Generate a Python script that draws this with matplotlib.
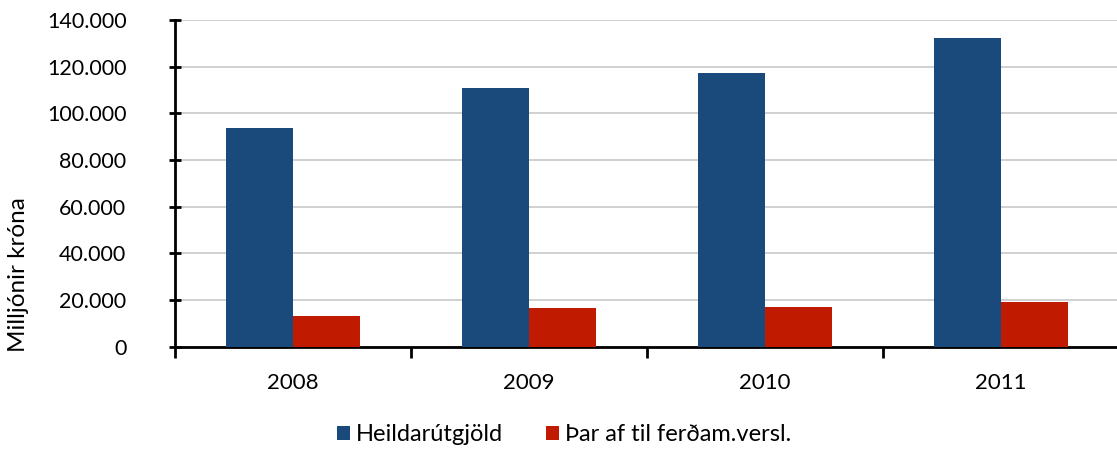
import numpy as np
import matplotlib.pyplot as plt
from matplotlib.ticker import FuncFormatter

years = ['2008', '2009', '2010', '2011']
heild = [93600, 111000, 117200, 132100]
ferda = [13300, 16600, 17300, 19100]
labels = ['Heildarútgjöld', 'Þar af til ferðam.versl.']

plt.rcParams['font.family'] = ['Lato', 'DejaVu Sans']

fig = plt.figure(figsize=(11.17, 4.5), dpi=100)
ax = fig.add_axes([0.1567, 0.229, 0.845, 0.727])

x = np.arange(len(years))
w = 0.285
ax.bar(x - w/2, heild, w, color='#1a4a7c', label=labels[0], zorder=3)
ax.bar(x + w/2, ferda, w, color='#c01a00', label=labels[1], zorder=3)

ax.set_xlim(-0.5, 3.5)
ax.set_ylim(0, 140000)
ax.set_yticks(np.arange(0, 140001, 20000))
ax.yaxis.set_major_formatter(FuncFormatter(lambda v, p: '0' if v == 0 else f'{int(v):,}'.replace(',', '.')))
ax.yaxis.grid(True, color='#c8c8c8', linewidth=1.2, zorder=0)

ax.set_xticks(x)
ax.set_xticklabels(years)
ax.set_xticks(np.arange(-0.5, 3.6, 1), minor=True)
ax.tick_params(axis='x', which='major', length=0, pad=19, labelsize=16)
ax.tick_params(axis='x', which='minor', length=8, width=2, direction='out')
ax.tick_params(axis='y', length=8, width=2, direction='inout', labelsize=15.5, pad=31)

for s in ['top', 'right']:
    ax.spines[s].set_visible(False)
ax.spines['left'].set_linewidth(2)
ax.spines['bottom'].set_linewidth(2)

ax.set_ylabel('Milljónir króna', fontsize=17.5)
ax.yaxis.set_label_coords(-0.155, 0.22)

fig.legend(loc='center', bbox_to_anchor=(0.505, 0.034), ncol=2, frameon=False,
           fontsize=17, handlelength=0.55, handleheight=0.55, columnspacing=1.8,
           handletextpad=0.25, borderpad=0)

fig.savefig('out.png', dpi=100)
